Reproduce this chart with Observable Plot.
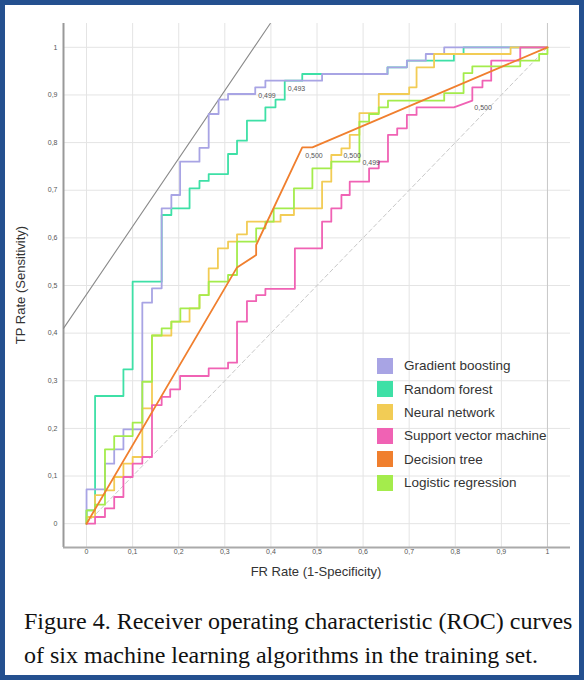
<!DOCTYPE html>
<html><head><meta charset="utf-8">
<script src="https://cdn.jsdelivr.net/npm/d3@7"></script>
<script src="https://cdn.jsdelivr.net/npm/@observablehq/plot@0.6"></script>
<style>
html,body{margin:0;padding:0;background:#fff;}
#page{position:relative;width:584px;height:680px;overflow:hidden;background:#fff;font-family:Arial,"Liberation Sans",sans-serif;}
#chart{position:absolute;left:0;top:0;}
#border{position:absolute;left:0;top:0;width:584px;height:680px;box-sizing:border-box;border:5px solid #24508f;pointer-events:none;}
.ttl{position:absolute;font-size:13px;color:#333;white-space:nowrap;}
#ylab{left:20px;top:285px;transform:translate(-50%,-50%) rotate(-90deg);}
#xlab{left:316px;top:571px;transform:translate(-50%,-50%);}
#legend{position:absolute;left:377px;top:354px;}
.lr{display:flex;align-items:center;height:23.4px;}
.sw{width:16px;height:16px;margin-right:11px;}
.lt{font-size:13.5px;color:#333;white-space:nowrap;}
#caption{position:absolute;left:24px;top:604px;width:570px;font-family:"Liberation Serif","Times New Roman",serif;font-size:24px;line-height:34px;color:#111;white-space:nowrap;}
</style></head>
<body><div id="page">
<div id="chart"></div>
<div class="ttl" id="ylab">TP Rate (Sensitivity)</div>
<div class="ttl" id="xlab">FR Rate (1-Specificity)</div>
<div id="legend"></div>
<div id="caption">Figure 4. Receiver operating characteristic (ROC) curves<br>of six machine learning algorithms in the training set.</div>
<div id="border"></div>
</div>
<script>
// ---- data ----
const models = ["Gradient boosting","Random forest","Neural network","Support vector machine","Decision tree","Logistic regression"];
const colors = ["#a8a4e4","#3ee0a6","#f2cc55","#f062b4","#f07f2e","#a4ec4c"];
const drawOrder = ["Random forest","Gradient boosting","Neural network","Support vector machine","Logistic regression","Decision tree"];
const ticks = [0,0.1,0.2,0.3,0.4,0.5,0.6,0.7,0.8,0.9,1];

const gbFpr = [0,0,0.04,0.04,0.06,0.06,0.08,0.08,0.1,0.121,0.121,0.142,0.142,0.163,0.163,0.184,0.184,0.203,0.203,0.245,0.245,0.265,0.265,0.2865,0.2865,0.307,0.307,0.366,0.366,0.388,0.388,0.511,0.511,0.653,0.653,0.695,0.695,0.736,0.736,0.776,0.776,1];
const gbTpr = [0,0.072,0.072,0.126,0.126,0.156,0.156,0.198,0.198,0.198,0.464,0.464,0.494,0.494,0.662,0.662,0.69,0.69,0.76,0.76,0.789,0.789,0.86,0.86,0.89,0.89,0.902,0.902,0.916,0.916,0.93,0.93,0.944,0.944,0.958,0.958,0.972,0.972,0.986,0.986,1,1];

const rfFpr = [0,0,0.0185,0.0185,0.08,0.08,0.1,0.1,0.163,0.163,0.184,0.184,0.2235,0.2235,0.245,0.245,0.265,0.265,0.307,0.307,0.3265,0.3265,0.348,0.348,0.388,0.388,0.41,0.41,0.43,0.43,0.468,0.468,0.653,0.653,0.695,0.695,0.797,0.797,0.818,0.818,1];
const rfTpr = [0,0.028,0.028,0.268,0.268,0.324,0.324,0.508,0.508,0.648,0.648,0.662,0.662,0.704,0.704,0.7195,0.7195,0.734,0.734,0.776,0.776,0.804,0.804,0.846,0.846,0.874,0.874,0.89,0.89,0.93,0.93,0.944,0.944,0.958,0.958,0.972,0.972,0.986,0.986,1,1];

const nnFpr = [0,0,0.0185,0.0185,0.04,0.04,0.06,0.06,0.08,0.08,0.1,0.1,0.121,0.121,0.142,0.142,0.184,0.184,0.2235,0.2235,0.245,0.245,0.265,0.265,0.285,0.285,0.307,0.307,0.3265,0.3265,0.348,0.348,0.421,0.421,0.45,0.45,0.511,0.511,0.531,0.531,0.553,0.553,0.571,0.571,0.592,0.592,0.634,0.634,0.7,0.7,0.716,0.716,0.754,0.754,0.92,0.92,1];
const nnTpr = [0,0.014,0.014,0.06,0.06,0.07,0.07,0.098,0.098,0.126,0.126,0.14,0.14,0.242,0.242,0.395,0.395,0.424,0.424,0.452,0.452,0.48,0.48,0.536,0.536,0.578,0.578,0.592,0.592,0.6075,0.6075,0.634,0.634,0.648,0.648,0.662,0.662,0.718,0.718,0.774,0.774,0.788,0.788,0.816,0.816,0.862,0.862,0.902,0.902,0.916,0.916,0.958,0.958,0.986,0.986,1,1];

const svmFpr = [0,0.0185,0.0185,0.04,0.04,0.06,0.06,0.08,0.08,0.1,0.1,0.121,0.121,0.142,0.142,0.163,0.163,0.1815,0.1815,0.203,0.203,0.265,0.265,0.307,0.307,0.3265,0.3265,0.348,0.348,0.368,0.368,0.388,0.388,0.452,0.452,0.511,0.511,0.531,0.531,0.553,0.553,0.571,0.571,0.613,0.613,0.634,0.634,0.654,0.654,0.674,0.674,0.695,0.695,0.716,0.716,0.797,0.837,0.837,0.859,0.859,0.878,0.878,0.941,0.941,1];
const svmTpr = [0,0,0.014,0.014,0.032,0.032,0.056,0.056,0.098,0.098,0.126,0.126,0.14,0.14,0.249,0.249,0.266,0.266,0.282,0.282,0.31,0.31,0.326,0.326,0.338,0.338,0.424,0.424,0.467,0.467,0.48,0.48,0.493,0.493,0.578,0.578,0.634,0.634,0.662,0.662,0.69,0.69,0.718,0.718,0.746,0.746,0.76,0.76,0.816,0.816,0.83,0.83,0.858,0.858,0.874,0.874,0.888,0.916,0.916,0.93,0.93,0.972,0.972,1,1];

const dtFpr = [0,0.3265,0.368,0.368,0.468,0.49,1];
const dtTpr = [0,0.538,0.564,0.585,0.79,0.79,1];

const lrFpr = [0,0,0.0185,0.0185,0.04,0.04,0.06,0.06,0.1,0.1,0.121,0.121,0.142,0.142,0.163,0.163,0.184,0.184,0.2035,0.2035,0.245,0.245,0.265,0.265,0.307,0.307,0.3265,0.3265,0.368,0.368,0.388,0.388,0.406,0.406,0.45,0.45,0.49,0.49,0.531,0.531,0.592,0.592,0.613,0.613,0.634,0.634,0.654,0.654,0.776,0.776,0.818,0.818,0.837,0.837,0.941,0.941,0.982,0.982,1,1];
const lrTpr = [0,0.028,0.028,0.04,0.04,0.156,0.156,0.184,0.184,0.212,0.212,0.298,0.298,0.395,0.395,0.41,0.41,0.424,0.424,0.452,0.452,0.48,0.48,0.508,0.508,0.522,0.522,0.592,0.592,0.62,0.62,0.634,0.634,0.662,0.662,0.704,0.704,0.746,0.746,0.76,0.76,0.844,0.844,0.86,0.86,0.874,0.874,0.888,0.888,0.904,0.904,0.946,0.946,0.96,0.96,0.972,0.972,0.986,0.986,1];

const refX = [0,1], refY = [0,1];
const tangentX = [-0.05,0.3986], tangentY = [0.41,1.05];

const labelX = [0.366,0.43,0.468,0.553,0.592,0.837];
const labelY = [0.902,0.93,0.79,0.788,0.76,0.888];
const labelText = ["0,499","0,493","0,500","0,500","0,499","0,500"];
const labelDx = [3,3,3,2,3,2];
const labelDy = [-1,6,6,5,-1,5];

// ---- build ----
const seriesX = {"Gradient boosting":gbFpr,"Random forest":rfFpr,"Neural network":nnFpr,"Support vector machine":svmFpr,"Decision tree":dtFpr,"Logistic regression":lrFpr};
const seriesY = {"Gradient boosting":gbTpr,"Random forest":rfTpr,"Neural network":nnTpr,"Support vector machine":svmTpr,"Decision tree":dtTpr,"Logistic regression":lrTpr};
const rows = [];
drawOrder.forEach(m=>seriesX[m].forEach((x,j)=>rows.push({model:m,x,y:seriesY[m][j]})));
const labels = labelText.map((t,i)=>({t,x:labelX[i],y:labelY[i]}));
const fmt = d => d===0?"0":d===1?"1":d3.format(".1f")(d).replace(".",",");

const plot = Plot.plot({
  width:584, height:600,
  marginLeft:63, marginRight:14, marginTop:23, marginBottom:53,
  x:{domain:[-0.05,1.05]},
  y:{domain:[-0.05,1.05]},
  color:{domain:models, range:colors},
  style:{fontFamily:"Arial, 'Liberation Sans', sans-serif", fontSize:"7px", color:"#555", background:"white"},
  marks:[
    Plot.gridX(ticks,{stroke:"#e4e4e4",strokeOpacity:1}),
    Plot.gridY(ticks,{stroke:"#e4e4e4",strokeOpacity:1}),
    Plot.ruleX([1],{stroke:"#c9c9c9"}),
    Plot.axisX({ticks, tickFormat:fmt, tickSize:0, tickPadding:2, label:null}),
    Plot.axisY({ticks, tickFormat:fmt, tickSize:0, tickPadding:6, label:null}),
    Plot.ruleX([-0.05],{stroke:"#999",strokeWidth:2}),
    Plot.ruleY([-0.05],{stroke:"#aaa",strokeWidth:2}),
    Plot.line(refX.map((x,i)=>({x,y:refY[i]})),{x:"x",y:"y",stroke:"#c8c8c8",strokeDasharray:"4,3",strokeWidth:1}),
    Plot.line(tangentX.map((x,i)=>({x,y:tangentY[i]})),{x:"x",y:"y",stroke:"#8a8a8a",strokeWidth:1.1}),
    Plot.line(rows,{x:"x",y:"y",z:"model",stroke:"model",strokeWidth:1.8}),
    Plot.text(labels,{x:"x",y:"y",text:"t",textAnchor:"start",fill:"#555",fontSize:7})
  ]
});
document.getElementById("chart").appendChild(plot);
[...plot.querySelectorAll("g[aria-label='text'] text")].forEach((el,i)=>{
  el.setAttribute("dx", labelDx[i]);
  el.setAttribute("dy", (labelDy[i]/7+0.32).toFixed(2)+"em");
});

const lg = document.getElementById("legend");
models.forEach((m,i)=>{
  const r=document.createElement("div"); r.className="lr";
  r.innerHTML=`<div class="sw" style="background:${colors[i]}"></div><div class="lt">${m}</div>`;
  lg.appendChild(r);
});
</script>
</body></html>
